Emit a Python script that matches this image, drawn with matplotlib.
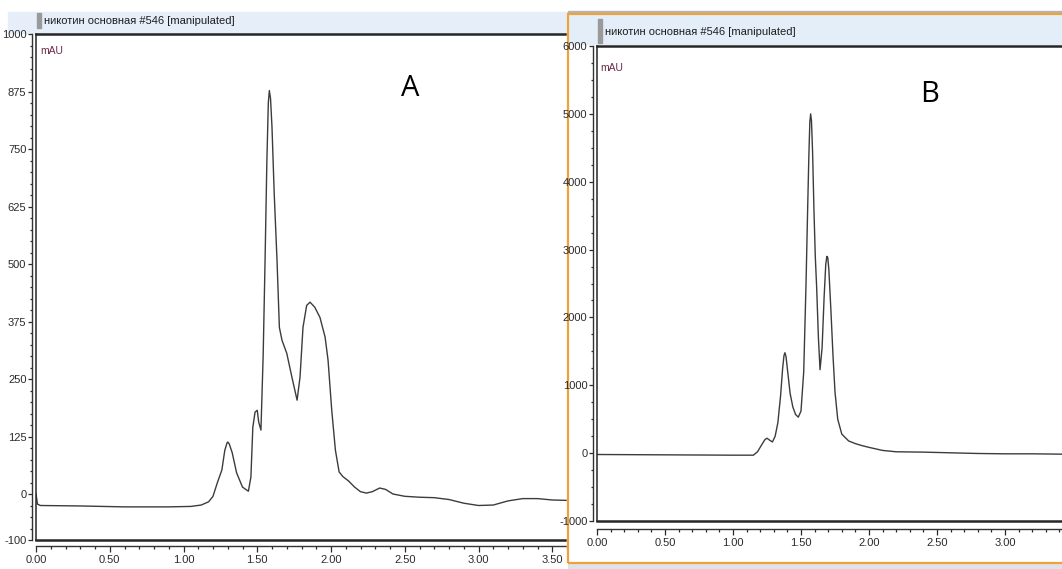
import matplotlib
matplotlib.use('Agg')
import matplotlib.pyplot as plt
from matplotlib.patches import Rectangle
from matplotlib.ticker import MultipleLocator, FixedLocator, FormatStrFormatter

W, H = 1062, 569

title_text = "никотин основная #546 [manipulated]"
unit_text = "mAU"
panel_labels = ["A", "B"]

# Chromatogram A (time, min ; signal, mAU)
time_a = [0.00, 0.01, 0.03, 0.30, 0.60, 0.90, 1.05, 1.12, 1.17, 1.20, 1.23, 1.26,
          1.28, 1.295, 1.30, 1.31, 1.33, 1.36, 1.40, 1.44, 1.457, 1.47, 1.485, 1.50,
          1.51, 1.525, 1.54, 1.553, 1.565, 1.575, 1.582, 1.59, 1.60, 1.615, 1.634,
          1.65, 1.668, 1.70, 1.735, 1.77, 1.79, 1.81, 1.835, 1.858, 1.89, 1.925,
          1.96, 1.98, 2.005, 2.03, 2.055, 2.08, 2.12, 2.16, 2.20, 2.24, 2.28, 2.33,
          2.37, 2.42, 2.50, 2.60, 2.70, 2.80, 2.90, 3.00, 3.10, 3.20, 3.30, 3.40,
          3.50, 3.61]
signal_a = [0, -22, -25, -26, -28, -28, -27, -24, -17, -5, 25, 52,
            95, 111, 113, 109, 90, 46, 15, 6, 37, 145, 178, 182,
            156, 139, 300, 508, 720, 850, 877, 860, 797, 653, 508,
            362, 334, 306, 254, 204, 254, 362, 410, 417, 406, 384,
            341, 291, 182, 95, 48, 38, 28, 15, 5, 2, 5, 13,
            10, 0, -5, -7, -8, -12, -20, -25, -24, -15, -10, -10,
            -13, -14]

# Chromatogram B
time_b = [0.00, 0.50, 1.00, 1.15, 1.18, 1.21, 1.235, 1.25, 1.27, 1.29, 1.31, 1.33,
          1.35, 1.365, 1.375, 1.382, 1.39, 1.405, 1.42, 1.44, 1.46, 1.48, 1.50,
          1.52, 1.537, 1.55, 1.558, 1.565, 1.571, 1.577, 1.585, 1.595, 1.605,
          1.615, 1.628, 1.64, 1.655, 1.67, 1.682, 1.69, 1.697, 1.705, 1.72, 1.735,
          1.75, 1.77, 1.80, 1.85, 1.90, 1.95, 2.00, 2.10, 2.20, 2.40, 2.60, 2.80,
          3.00, 3.20, 3.42]
signal_b = [-20, -25, -30, -30, 20, 120, 200, 220, 190, 165, 250, 450,
            850, 1250, 1440, 1480, 1420, 1150, 880, 680, 570, 530, 620,
            1200, 2500, 3700, 4400, 4880, 5000, 4900, 4450, 3600, 2900,
            2450, 1700, 1230, 1550, 2300, 2780, 2900, 2880, 2700, 2100, 1450,
            900, 500, 280, 180, 140, 110, 85, 40, 20, 15, 5, -5,
            -10, -10, -15]

yticks_a = [-100, 0, 125, 250, 375, 500, 625, 750, 875, 1000]
yticks_b = [-1000, 0, 1000, 2000, 3000, 4000, 5000, 6000]
xticks = [0.0, 0.5, 1.0, 1.5, 2.0, 2.5, 3.0, 3.5]

NARROW = ['Liberation Sans', 'DejaVu Sans']
LINE = '#3c3c3c'
TXT = '#2b2b2b'

fig = plt.figure(figsize=(W / 100, H / 100), dpi=100)
fig.patch.set_facecolor('white')


def rect(l, t, r, b):
    return [l / W, 1 - b / H, (r - l) / W, (b - t) / H]


def fpatch(l, t, r, b, zorder=0, **kw):
    p = Rectangle((l / W, 1 - b / H), (r - l) / W, (b - t) / H,
                  transform=fig.transFigure, figure=fig, zorder=zorder, **kw)
    fig.patches.append(p)


def ftext(x, y, s, **kw):
    fig.text(x / W, 1 - y / H, s, **kw)


def make_panel(l, t, r, b, xlim, ylim, yt, yminor, ysep, xsep, times, sig):
    ax = fig.add_axes(rect(l, t, r, b))
    ax.set_zorder(3)
    ax.set_facecolor('white')
    ax.set_xlim(*xlim)
    ax.set_ylim(*ylim)
    ax.set_xticks([])
    ax.set_yticks([])
    ax.spines['right'].set_visible(False)
    ax.spines['top'].set_linewidth(1.8)
    ax.spines['bottom'].set_linewidth(1.8)
    ax.spines['left'].set_linewidth(1.1)
    for s in ['top', 'bottom', 'left']:
        ax.spines[s].set_color('#262626')
    ax.plot(times, sig, color=LINE, lw=1.0, solid_joinstyle='round')

    sy = ax.secondary_yaxis(-ysep / (r - l))
    sy.yaxis.set_major_locator(FixedLocator(yt))
    sy.yaxis.set_minor_locator(MultipleLocator(yminor))
    sy.yaxis.set_major_formatter(FormatStrFormatter('%d'))
    sy.spines['left'].set_linewidth(1.0)
    sy.spines['left'].set_color('#333333')
    sy.tick_params(which='major', length=3.0, width=0.9, pad=1, labelsize=8,
                   colors=TXT)
    sy.tick_params(which='minor', length=1.6, width=0.9, colors=TXT)
    for lab in sy.get_yticklabels():
        lab.set_family(NARROW)

    sx = ax.secondary_xaxis(-xsep / (b - t))
    sx.xaxis.set_major_locator(FixedLocator([v for v in xticks if v <= xlim[1]]))
    sx.xaxis.set_minor_locator(MultipleLocator(0.1))
    sx.xaxis.set_major_formatter(FormatStrFormatter('%.2f'))
    sx.spines['bottom'].set_linewidth(1.0)
    sx.spines['bottom'].set_color('#333333')
    sx.tick_params(which='major', length=4.3, width=0.9, pad=2, labelsize=8,
                   colors=TXT)
    sx.tick_params(which='minor', length=2.2, width=0.9, colors=TXT)
    for lab in sx.get_xticklabels():
        lab.set_family(NARROW)
    return ax


# ---------- Panel A ----------
fpatch(8, 12, 568, 33, color='#e6eef9', zorder=0)
axA = make_panel(36, 34, 568, 540, (0, (568 - 36) / 147.5), (-100, 1000),
                 yticks_a, 25, 4, 6, time_a, signal_a)
fpatch(37, 13, 41, 28, color='#9a9a9a', zorder=1)
ftext(44, 21, title_text, fontsize=8, family=NARROW, color='#1e1e1e',
      va='center', ha='left')
ftext(40, 51, unit_text, fontsize=7.5, family=NARROW, color='#6a2a4a',
      va='center', ha='left', zorder=5)
ftext(410, 88, panel_labels[0], fontsize=21, family=['Open Sans', 'DejaVu Sans'],
      color='black', va='center', ha='center', zorder=6)

# ---------- Panel B ----------
fpatch(567, 13, 1063, 563, color='white', zorder=4)
fpatch(568, 11, 1063, 13, color='#b4b4b4', zorder=5)
fpatch(569, 15, 1063, 44, color='#e4eef9', zorder=5)
fpatch(568, 563, 1063, 569, color='#dfe3e9', zorder=5)
fpatch(568, 13.5, 1064, 562.5, fill=False, edgecolor='#f0a23a', lw=1.6, zorder=6)

axB = make_panel(597, 46, 1062, 521, (0, (1062 - 597) / 136.0), (-1000, 6000),
                 yticks_b, 250, 4, 8, time_b, signal_b)
axB.set_zorder(7)
fpatch(598, 19, 602, 43, color='#9a9a9a', zorder=7)
ftext(605, 32, title_text, fontsize=8, family=NARROW, color='#1e1e1e',
      va='center', ha='left', zorder=7)
ftext(600, 68, unit_text, fontsize=7.5, family=NARROW, color='#6a2a4a',
      va='center', ha='left', zorder=9)
ftext(930, 95, panel_labels[1], fontsize=21, family=['Open Sans', 'DejaVu Sans'],
      color='black', va='center', ha='center', zorder=9)

fig.savefig('out.png', dpi=100, facecolor='white')
